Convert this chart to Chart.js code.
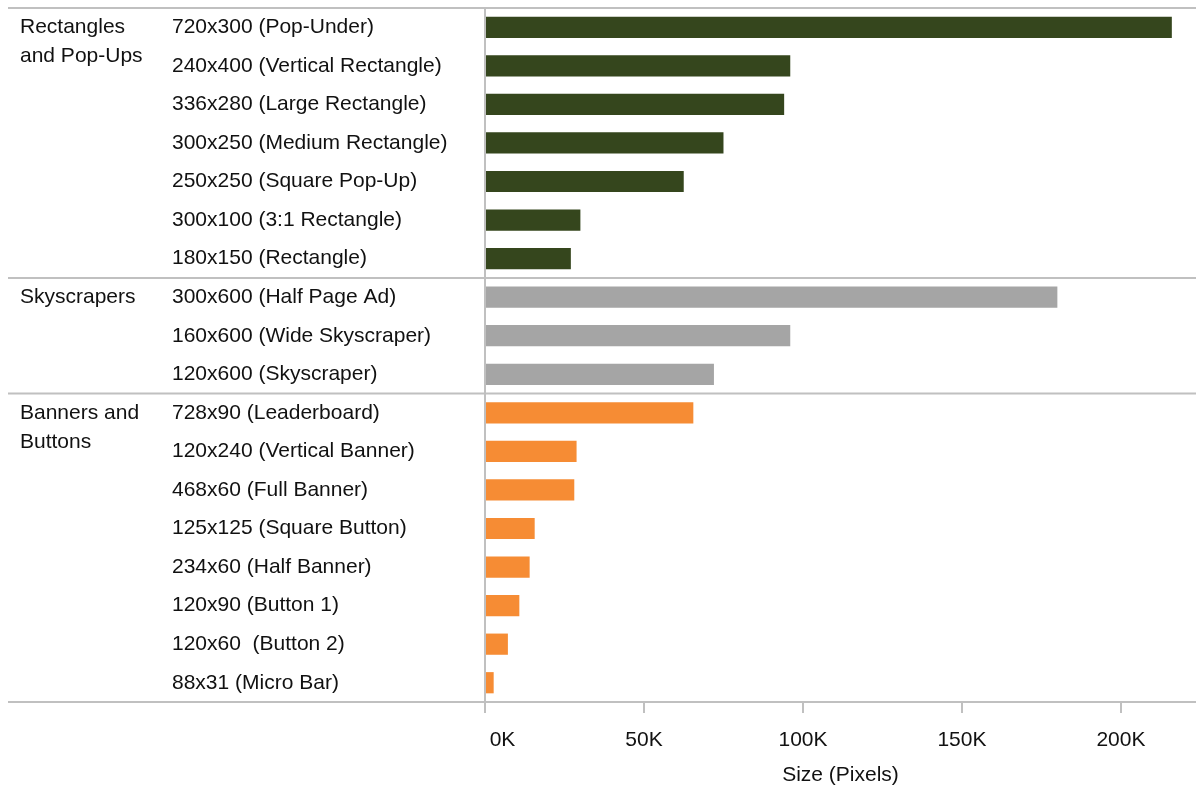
<!DOCTYPE html>
<html>
<head>
<meta charset="utf-8">
<script src="https://cdn.jsdelivr.net/npm/chart.js@4"></script>
<style>
  html, body { margin: 0; padding: 0; background: #fff; }
  #wrap { width: 1196px; height: 790px; }
</style>
</head>
<body>
<div id="wrap"><canvas id="sizes"></canvas></div>
<script>
const adNames = [
    '720x300 (Pop-Under)', '240x400 (Vertical Rectangle)', '336x280 (Large Rectangle)',
    '300x250 (Medium Rectangle)', '250x250 (Square Pop-Up)', '300x100 (3:1 Rectangle)',
    '180x150 (Rectangle)',
    '300x600 (Half Page Ad)', '160x600 (Wide Skyscraper)', '120x600 (Skyscraper)',
    '728x90 (Leaderboard)', '120x240 (Vertical Banner)', '468x60 (Full Banner)',
    '125x125 (Square Button)', '234x60 (Half Banner)', '120x90 (Button 1)',
    '120x60  (Button 2)', '88x31 (Micro Bar)'
];
const adPixels = [
    216000, 96000, 94080, 75000, 62500, 30000, 27000,
    180000, 96000, 72000,
    65520, 28800, 28080, 15625, 14040, 10800, 7200, 2728
];
const adGroups = [
    'rect', 'rect', 'rect', 'rect', 'rect', 'rect', 'rect',
    'sky', 'sky', 'sky',
    'banner', 'banner', 'banner', 'banner', 'banner', 'banner', 'banner', 'banner'
];
const groupLabels = {
    rect: ['', 'Rectangles', 'and Pop-Ups'],
    sky: 'Skyscrapers',
    banner: ['', 'Banners and', 'Buttons']
};
const groupColors = { rect: '#35461d', sky: '#a5a5a5', banner: '#f68c34' };
const xTicks = [0, 50000, 100000, 150000, 200000];

const FONT = { family: '"Liberation Sans", Arial, sans-serif', size: 21 };
const LINE = '#c0c0c0';

// group name only on the first row of each group
const groupTicks = adGroups.map((g, i) => (i === 0 || adGroups[i - 1] !== g) ? groupLabels[g] : '');

// full-width separators above each group and under the last row
const separators = {
    id: 'separators',
    afterDraw(chart) {
        const y = chart.scales.y;
        const half = (y.getPixelForValue(1) - y.getPixelForValue(0)) / 2;
        const ctx = chart.ctx;
        ctx.save();
        ctx.strokeStyle = LINE;
        ctx.lineWidth = 2;
        adGroups.forEach((g, i) => {
            if (i === 0 || adGroups[i - 1] !== g) {
                const py = y.getPixelForValue(i) - half;
                ctx.beginPath(); ctx.moveTo(8, py); ctx.lineTo(chart.width, py); ctx.stroke();
            }
        });
        const pb = y.getPixelForValue(adNames.length - 1) + half;
        ctx.beginPath(); ctx.moveTo(8, pb); ctx.lineTo(chart.width, pb); ctx.stroke();
        ctx.restore();
    }
};

// fixed widths, no extra label padding above/below the rows
const fixWidth = w => axis => {
    axis.width = w;
    axis.paddingTop = 0;
    axis.paddingBottom = 0;
};

new Chart(document.getElementById('sizes'), {
    type: 'bar',
    data: {
        labels: adNames,
        datasets: [{
            data: adPixels,
            backgroundColor: adGroups.map(g => groupColors[g]),
            barPercentage: 0.55,
            categoryPercentage: 1.0
        }]
    },
    options: {
        indexAxis: 'y',
        responsive: true,
        maintainAspectRatio: false,
        animation: false,
        layout: { padding: { top: 8, left: 20, right: 0, bottom: 0 } },
        plugins: { legend: { display: false }, tooltip: { enabled: false } },
        scales: {
            x: {
                type: 'linear',
                min: 0,
                max: 223600,
                afterBuildTicks: axis => { axis.ticks = xTicks.map(v => ({ value: v })); },
                afterFit: axis => { axis.height = 88; axis.paddingLeft = 0; axis.paddingRight = 0; },
                grid: { drawOnChartArea: false, drawTicks: true, tickLength: 11, color: LINE, lineWidth: 2 },
                border: { display: false },
                ticks: {
                    padding: 15,
                    color: '#111',
                    font: FONT,
                    maxRotation: 0,
                    callback: v => v === 0 ? '      0K' : (v / 1000) + 'K'
                },
                title: {
                    display: true,
                    text: 'Size (Pixels)',
                    color: '#111',
                    font: FONT,
                    padding: { top: 10, bottom: 2 }
                }
            },
            y: {
                position: 'left',
                weight: 0,
                grid: { display: false },
                border: { display: true, color: LINE, width: 2 },
                ticks: { color: '#111', font: FONT, crossAlign: 'far', padding: 0 },
                afterFit: fixWidth(313)
            },
            group: {
                type: 'category',
                axis: 'y',
                position: 'left',
                weight: 1,
                labels: groupTicks,
                offset: true,
                grid: { display: false },
                border: { display: false },
                ticks: {
                    color: '#111',
                    font: Object.assign({ lineHeight: 1.4 }, FONT),
                    crossAlign: 'far',
                    padding: 0,
                    autoSkip: false
                },
                afterFit: fixWidth(152)
            }
        }
    },
    plugins: [separators]
});
</script>
</body>
</html>
